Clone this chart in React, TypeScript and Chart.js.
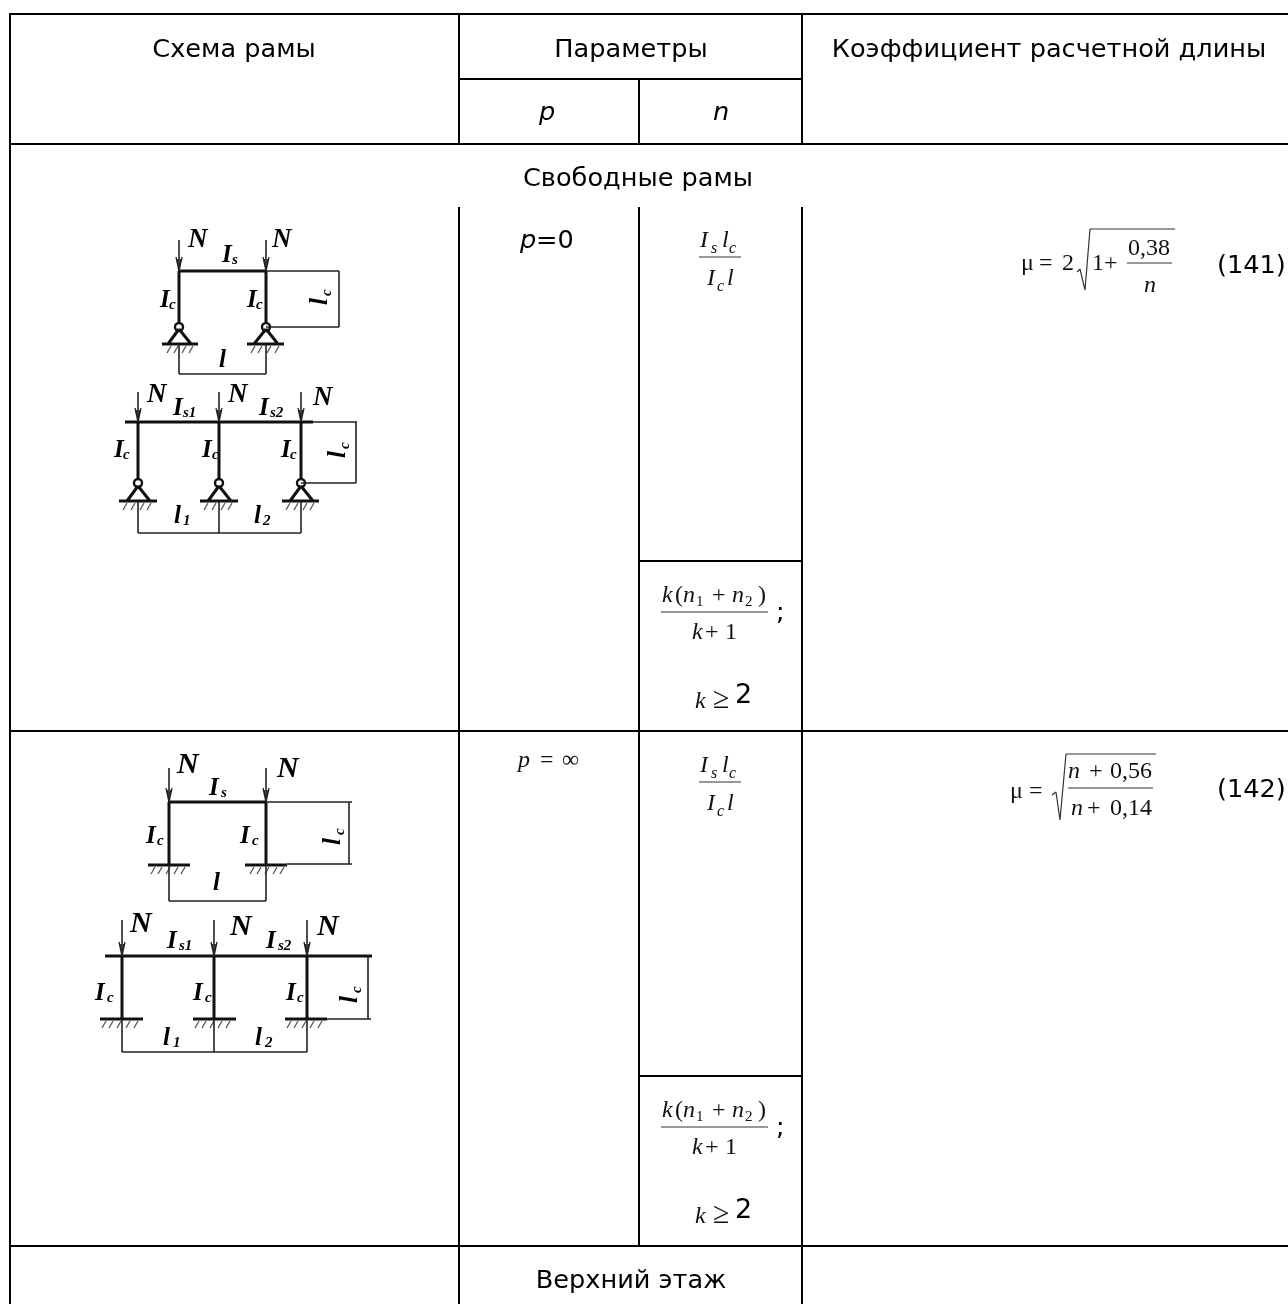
import React, { useEffect, useRef } from "react";
import { Chart, registerables } from "chart.js";

Chart.register(...registerables);

type Seg = [number, number, number, number];
// text, x, baseline y, font key, align, rotation (deg)
type Txt = [string, number, number, string, ("left" | "center")?, number?];

const W = 1288;
const H = 1304;

const tableRules: Seg[] = [
  [9, 14, 1288, 14],
  [9, 144, 1288, 144],
  [459, 79, 803, 79],
  [639, 561, 803, 561],
  [639, 1076, 803, 1076],
  [9, 731, 1288, 731],
  [9, 1246, 1288, 1246],
  [10, 14, 10, 1304],
  [459, 14, 459, 144],
  [639, 79, 639, 144],
  [802, 14, 802, 144],
  [459, 207, 459, 1304],
  [639, 207, 639, 1246],
  [802, 207, 802, 1304],
];

const thickFrame: Seg[] = [
  [179, 271, 266, 271],
  [179, 271, 179, 324],
  [266, 271, 266, 324],
  [125, 422, 313, 422],
  [138, 422, 138, 479],
  [219, 422, 219, 479],
  [301, 422, 301, 479],
  [169, 802, 266, 802],
  [169, 802, 169, 864],
  [266, 802, 266, 864],
  [105, 956, 372, 956],
  [122, 956, 122, 1019],
  [214, 956, 214, 1019],
  [307, 956, 307, 1019],
  [162, 344, 198, 344],
  [247, 344, 284, 344],
  [119, 501, 157, 501],
  [200, 501, 238, 501],
  [282, 501, 319, 501],
  [148, 865, 190, 865],
  [245, 865, 287, 865],
  [100, 1019, 143, 1019],
  [193, 1019, 236, 1019],
  [285, 1019, 327, 1019],
  [179, 329, 168, 344],
  [179, 329, 191, 344],
  [266, 329, 254, 344],
  [266, 329, 278, 344],
  [138, 486, 127, 501],
  [138, 486, 150, 501],
  [219, 486, 208, 501],
  [219, 486, 231, 501],
  [301, 486, 290, 501],
  [301, 486, 313, 501],
];

const thinFrame: Seg[] = [
  [179, 240, 179, 271],
  [266, 240, 266, 271],
  [138, 392, 138, 422],
  [219, 392, 219, 422],
  [301, 392, 301, 422],
  [169, 768, 169, 802],
  [266, 768, 266, 802],
  [122, 920, 122, 956],
  [214, 920, 214, 956],
  [307, 920, 307, 956],
  [266, 271, 339, 271],
  [339, 271, 339, 327],
  [266, 327, 339, 327],
  [179, 344, 179, 374],
  [266, 344, 266, 374],
  [179, 374, 266, 374],
  [313, 422, 357, 422],
  [356, 422, 356, 483],
  [301, 483, 356, 483],
  [138, 501, 138, 533],
  [219, 501, 219, 533],
  [301, 501, 301, 533],
  [138, 533, 301, 533],
  [266, 802, 352, 802],
  [349, 802, 349, 864],
  [287, 864, 352, 864],
  [169, 865, 169, 901],
  [266, 865, 266, 901],
  [169, 901, 266, 901],
  [368, 956, 368, 1019],
  [327, 1019, 371, 1019],
  [122, 1019, 122, 1052],
  [214, 1019, 214, 1052],
  [307, 1019, 307, 1052],
  [122, 1052, 307, 1052],
];

const arrowTips: [number, number][] = [
  [179, 271], [266, 271], [138, 422], [219, 422], [301, 422],
  [169, 802], [266, 802], [122, 956], [214, 956], [307, 956],
];

const hatchAnchors: [number, number][] = [
  [171, 346], [178, 346], [186, 346], [193, 346],
  [255, 346], [262, 346], [271, 346], [279, 346],
  [127, 503], [135, 503], [144, 503], [151, 503],
  [208, 503], [216, 503], [225, 503], [232, 503],
  [290, 503], [298, 503], [307, 503], [314, 503],
  [155, 867], [162, 867], [170, 867], [178, 867], [185, 867],
  [254, 867], [261, 867], [269, 867], [277, 867], [284, 867],
  [106, 1021], [113, 1021], [121, 1021], [130, 1021], [138, 1021],
  [199, 1021], [206, 1021], [214, 1021], [222, 1021], [230, 1021],
  [291, 1021], [298, 1021], [306, 1021], [314, 1021], [322, 1021],
];

const hinges: [number, number][] = [
  [179, 327], [266, 327], [138, 483], [219, 483], [301, 483],
];

const formulaRules: Seg[] = [
  [699, 257, 741, 257],
  [699, 782, 741, 782],
  [661, 612, 768, 612],
  [661, 1127, 768, 1127],
  [1127, 263, 1172, 263],
  [1068, 788, 1153, 788],
  [1077, 272, 1080, 269],
  [1080, 269, 1085, 290],
  [1085, 290, 1090, 229],
  [1090, 229, 1175, 229],
  [1052, 795, 1056, 792],
  [1056, 792, 1060, 820],
  [1060, 820, 1066, 754],
  [1066, 754, 1156, 754],
];

const tableTexts: Txt[] = [
  ["Схема рамы", 234, 57, "ui", "center"],
  ["Параметры", 631, 57, "ui", "center"],
  ["Коэффициент расчетной длины", 1049, 57, "ui", "center"],
  ["p", 547, 120, "uiI", "center"],
  ["n", 721, 120, "uiI", "center"],
  ["Свободные рамы", 638, 186, "ui", "center"],
  ["Верхний этаж", 631, 1288, "ui", "center"],
  ["p", 520, 248, "uiI", "left"],
  ["=0", 536, 248, "ui", "left"],
  [";", 776, 620, "ui", "left"],
  ["2", 735, 703, "ui2", "left"],
  [";", 776, 1135, "ui", "left"],
  ["2", 735, 1218, "ui2", "left"],
  ["(141)", 1217, 273, "ui", "left"],
  ["(142)", 1217, 797, "ui", "left"],
];

const mathTexts: Txt[] = [
  ["I", 700, 247, "mI"], ["s", 711, 253, "sI"], ["l", 722, 247, "mI"], ["c", 729, 253, "sI"],
  ["I", 707, 285, "mI"], ["c", 717, 291, "sI"], ["l", 727, 285, "mI"],
  ["I", 700, 772, "mI"], ["s", 711, 778, "sI"], ["l", 722, 772, "mI"], ["c", 729, 778, "sI"],
  ["I", 707, 810, "mI"], ["c", 717, 816, "sI"], ["l", 727, 810, "mI"],
  ["p", 518, 767, "mI"], ["=", 540, 767, "m"], ["∞", 562, 767, "m"],
  ["k", 662, 602, "mI"], ["(", 675, 602, "m"], ["n", 683, 602, "mI"], ["1", 696, 606, "s"], ["+", 712, 602, "m"], ["n", 732, 602, "mI"], ["2", 745, 606, "s"], [")", 758, 602, "m"],
  ["k", 692, 639, "mI"], ["+", 705, 639, "m"], ["1", 725, 639, "m"],
  ["k", 695, 708, "mI"], ["≥", 713, 708, "mG"],
  ["k", 662, 1117, "mI"], ["(", 675, 1117, "m"], ["n", 683, 1117, "mI"], ["1", 696, 1121, "s"], ["+", 712, 1117, "m"], ["n", 732, 1117, "mI"], ["2", 745, 1121, "s"], [")", 758, 1117, "m"],
  ["k", 692, 1154, "mI"], ["+", 705, 1154, "m"], ["1", 725, 1154, "m"],
  ["k", 695, 1223, "mI"], ["≥", 713, 1223, "mG"],
  ["μ", 1021, 270, "m"], ["=", 1039, 270, "m"], ["2", 1062, 270, "m"], ["1", 1092, 270, "m"], ["+", 1104, 270, "m"], ["0,38", 1128, 255, "m"], ["n", 1144, 292, "mI"],
  ["μ", 1010, 798, "m"], ["=", 1029, 798, "m"],
  ["n", 1068, 778, "mI"], ["+", 1089, 778, "m"], ["0,56", 1110, 778, "m"],
  ["n", 1071, 815, "mI"], ["+", 1087, 815, "m"], ["0,14", 1110, 815, "m"],
];

const frameLabels: Txt[] = [
  ["N", 188, 247, "fL"], ["N", 272, 247, "fL"],
  ["I", 222, 262, "fM"], ["s", 232, 264, "fS"],
  ["I", 160, 307, "fM"], ["c", 169, 309, "fS"], ["I", 247, 307, "fM"], ["c", 256, 309, "fS"],
  ["l", 327, 305, "fM", "left", -90], ["c", 331, 296, "fS", "left", -90],
  ["l", 219, 367, "fM"],
  ["N", 147, 402, "fL"], ["N", 228, 402, "fL"], ["N", 313, 405, "fL"],
  ["I", 173, 415, "fM"], ["s1", 183, 417, "fS"], ["I", 259, 415, "fM"], ["s2", 270, 417, "fS"],
  ["I", 114, 457, "fM"], ["c", 123, 459, "fS"], ["I", 202, 457, "fM"], ["c", 212, 459, "fS"], ["I", 281, 457, "fM"], ["c", 290, 459, "fS"],
  ["l", 345, 458, "fM", "left", -90], ["c", 349, 449, "fS", "left", -90],
  ["l", 174, 523, "fM"], ["1", 183, 525, "fS"], ["l", 254, 523, "fM"], ["2", 263, 525, "fS"],
  ["N", 177, 773, "fN"], ["N", 277, 777, "fN"],
  ["I", 209, 795, "fM"], ["s", 221, 797, "fS"],
  ["I", 146, 843, "fM"], ["c", 157, 845, "fS"], ["I", 240, 843, "fM"], ["c", 252, 845, "fS"],
  ["l", 340, 845, "fM", "left", -90], ["c", 344, 835, "fS", "left", -90],
  ["l", 213, 890, "fM"],
  ["N", 130, 932, "fN"], ["N", 230, 935, "fN"], ["N", 317, 935, "fN"],
  ["I", 167, 948, "fM"], ["s1", 179, 950, "fS"], ["I", 266, 948, "fM"], ["s2", 278, 950, "fS"],
  ["I", 95, 1000, "fM"], ["c", 107, 1002, "fS"], ["I", 193, 1000, "fM"], ["c", 205, 1002, "fS"], ["I", 286, 1000, "fM"], ["c", 297, 1002, "fS"],
  ["l", 357, 1003, "fM", "left", -90], ["c", 361, 993, "fS", "left", -90],
  ["l", 163, 1045, "fM"], ["1", 173, 1047, "fS"], ["l", 255, 1045, "fM"], ["2", 265, 1047, "fS"],
];

const fonts: Record<string, string> = {
  ui: "25.6px 'DejaVu Sans'",
  uiI: "italic 25.6px 'DejaVu Sans'",
  ui2: "27px 'DejaVu Sans'",
  m: "24px 'Liberation Serif'",
  mG: "30px 'Liberation Serif'",
  mI: "italic 24px 'Liberation Serif'",
  s: "15px 'Liberation Serif'",
  sI: "italic 16px 'Liberation Serif'",
  fL: "italic bold 27px 'Liberation Serif'",
  fN: "italic bold 30px 'Liberation Serif'",
  fM: "italic bold 25px 'Liberation Serif'",
  fS: "italic bold 15px 'Liberation Serif'",
};

const toPoints = (segs: Seg[]) =>
  segs.flatMap(([x1, y1, x2, y2]) => [
    { x: x1, y: y1 },
    { x: x2, y: y2 },
    { x: x2, y: null as number | null },
  ]);

const lineSet = (data: any[], width: number, color = "#000") => ({
  data,
  showLine: true,
  spanGaps: false,
  borderColor: color,
  borderWidth: width,
  pointRadius: 0,
  tension: 0,
});

const arrowSegs: Seg[] = arrowTips.flatMap(([x, y]): Seg[] => [
  [x - 3, y - 14, x, y],
  [x + 3, y - 14, x, y],
  [x - 1.5, y - 12, x, y],
  [x + 1.5, y - 12, x, y],
]);

const hatchSegs: Seg[] = hatchAnchors.map(([x, y]): Seg => [x, y, x - 4, y + 7]);

const textPlugin = {
  id: "tableText",
  afterDatasetsDraw(chart: any) {
    const { ctx, scales } = chart;
    const paint = (items: Txt[], blur: string, color: string) => {
      ctx.save();
      ctx.filter = blur;
      ctx.fillStyle = color;
      ctx.textBaseline = "alphabetic";
      for (const [text, x, y, font, align, rot] of items) {
        ctx.save();
        ctx.font = fonts[font];
        ctx.textAlign = align ?? "left";
        ctx.translate(scales.x.getPixelForValue(x), scales.y.getPixelForValue(y));
        if (rot) ctx.rotate((rot * Math.PI) / 180);
        ctx.fillText(text, 0, 0);
        ctx.restore();
      }
      ctx.restore();
    };
    paint(tableTexts, "none", "#000");
    paint(mathTexts, "blur(0.3px)", "#111");
    paint(frameLabels, "blur(0.5px)", "#000");
  },
};

export default function App() {
  const ref = useRef<HTMLCanvasElement>(null);
  useEffect(() => {
    const chart = new Chart(ref.current as HTMLCanvasElement, {
      type: "scatter",
      data: {
        datasets: [
          lineSet(toPoints(tableRules), 2),
          lineSet(toPoints(thinFrame), 1.6, "#222"),
          lineSet(toPoints(thickFrame), 3, "#111"),
          lineSet(toPoints(arrowSegs), 1.3, "#222"),
          lineSet(toPoints(hatchSegs), 1.3, "#555"),
          lineSet(toPoints(formulaRules), 1.2, "#333"),
          {
            data: hinges.map(([x, y]) => ({ x, y })),
            showLine: false,
            pointRadius: 4,
            pointBackgroundColor: "#fff",
            pointBorderColor: "#111",
            pointBorderWidth: 2.4,
          },
        ] as any,
      },
      options: {
        animation: false,
        responsive: false,
        devicePixelRatio: 1,
        layout: { padding: 0, autoPadding: false },
        plugins: { legend: { display: false }, tooltip: { enabled: false }, title: { display: false } },
        scales: {
          x: { type: "linear", display: false, min: 0, max: W },
          y: { type: "linear", display: false, min: 0, max: H, reverse: true },
        },
      },
      plugins: [textPlugin],
    });
    return () => chart.destroy();
  }, []);
  return (
    <div style={{ position: "fixed", left: 0, top: 0, width: W, height: H, background: "#fff", overflow: "hidden" }}>
      <canvas ref={ref} width={W} height={H} style={{ display: "block" }} />
    </div>
  );
}
